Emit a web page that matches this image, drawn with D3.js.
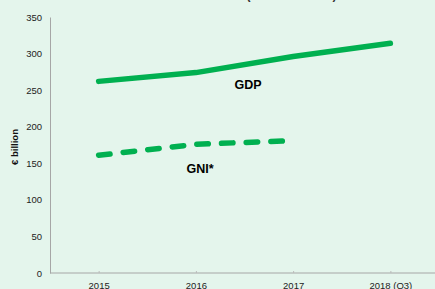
<!DOCTYPE html>
<html><head><meta charset="utf-8">
<script src="https://cdn.jsdelivr.net/npm/d3@7"></script>
<style>body{margin:0;background:#e4f5ec;}svg{display:block;}</style>
</head><body>
<svg id="c" width="435" height="289"></svg>
<script>
const categories = ["2015", "2016", "2017", "2018 (Q3)"];
const gdpValues = [262, 274, 296, 314];
const gniValues = [161, 176, 181];
const yTicks = [0, 50, 100, 150, 200, 250, 300, 350];
const titleText = "GDP and GNI* (nominal terms)";
const yLabel = "€ billion";

const svg = d3.select("#c");
svg.append("rect").attr("width",435).attr("height",289).attr("fill","#e4f5ec");

const x = d3.scalePoint().domain(categories).range([50, 439]).padding(0.5);
const y = d3.scaleLinear().domain([0, 350]).range([273, 17]);

// title (cut off at top)
svg.append("text").attr("x", 250).attr("y", -1).attr("text-anchor","middle")
  .attr("font-family","Liberation Sans, Arial").attr("font-weight","bold").attr("font-size",12)
  .attr("fill","#333").text(titleText);

// y axis
const ya = svg.append("g").attr("transform","translate(50,0)")
  .call(d3.axisLeft(y).tickValues(yTicks).tickSize(0).tickPadding(8));
ya.select(".domain").attr("stroke","#a6a6a6");
ya.selectAll("text").attr("font-family","Liberation Sans, Arial").attr("font-size",9.5).attr("fill","#222");

// x axis
const xa = svg.append("g").attr("transform","translate(0,273)")
  .call(d3.axisBottom(x).tickSize(-2).tickPadding(9));
xa.select(".domain").attr("stroke","#a6a6a6").attr("d","M50,0H435");
xa.selectAll(".tick line").attr("stroke","#bbb");
xa.selectAll("text").attr("font-family","Liberation Sans, Arial").attr("font-size",9.5).attr("fill","#222");

// y label
svg.append("text").attr("transform","translate(18,147) rotate(-90)").attr("text-anchor","middle")
  .attr("font-family","Liberation Sans, Arial").attr("font-weight","bold").attr("font-size",9.5)
  .attr("fill","#111").text(yLabel);

const line = d3.line().x((d,i)=>x(categories[i])).y(d=>y(d));

svg.append("path").datum(gdpValues).attr("d", line).attr("fill","none")
  .attr("stroke","#00b050").attr("stroke-width",5.5).attr("stroke-linecap","round").attr("stroke-linejoin","round");

svg.append("path").datum(gniValues).attr("d", line).attr("fill","none")
  .attr("stroke","#00b050").attr("stroke-width",5.5).attr("stroke-linecap","round")
  .attr("stroke-dasharray","11.5,13.2");

svg.append("text").attr("x",248).attr("y",89).attr("text-anchor","middle")
  .attr("font-family","Liberation Sans, Arial").attr("font-weight","bold").attr("font-size",12.5)
  .attr("fill","#000").text("GDP");
svg.append("text").attr("x",200).attr("y",172.5).attr("text-anchor","middle")
  .attr("font-family","Liberation Sans, Arial").attr("font-weight","bold").attr("font-size",12.5)
  .attr("fill","#000").text("GNI*");
</script>
</body></html>
